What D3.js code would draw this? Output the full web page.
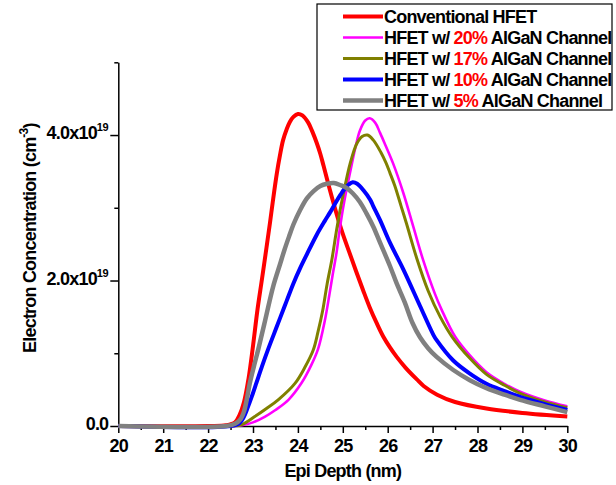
<!DOCTYPE html>
<html>
<head>
<meta charset="utf-8">
<script src="https://cdn.jsdelivr.net/npm/d3@7"></script>
<style>
  body { margin: 0; background: #fff; }
  svg text { font-family: "Liberation Sans", Arial, sans-serif; font-weight: bold; fill: #000; }
</style>
</head>
<body>
<svg id="chart" width="616" height="485"></svg>
<script>
// Electron concentration profiles, [epi depth (nm), concentration (1e19 cm^-3)]
const conventional = [[20,0],[22,0],[22.4,0.01],[22.6,0.05],[22.7,0.15],[22.8,0.33],[22.9,0.65],[23.0,1.1],[23.1,1.6],[23.2,2.02],[23.3,2.45],[23.38,2.8],[23.44,3.08],[23.53,3.47],[23.6,3.72],[23.67,3.93],[23.75,4.08],[23.82,4.18],[23.9,4.25],[24.0,4.29],[24.1,4.27],[24.23,4.17],[24.32,4.05],[24.42,3.89],[24.5,3.74],[24.57,3.58],[24.71,3.25],[24.86,2.92],[25.0,2.64],[25.15,2.38],[25.3,2.12],[25.45,1.87],[25.6,1.63],[25.75,1.42],[25.9,1.23],[26.05,1.08],[26.2,0.95],[26.4,0.8],[26.65,0.64],[26.8,0.55],[27.1,0.43],[27.5,0.33],[28.2,0.24],[29.0,0.18],[30,0.13]];

const channel20 = [[20,0],[22.5,0],[22.75,0.01],[23.0,0.05],[23.27,0.13],[23.5,0.22],[23.79,0.36],[24.08,0.59],[24.3,0.84],[24.45,1.06],[24.6,1.45],[24.7,1.8],[24.78,2.1],[24.86,2.38],[24.93,2.7],[25.03,3.08],[25.2,3.6],[25.3,3.88],[25.38,4.06],[25.5,4.2],[25.6,4.23],[25.72,4.17],[25.83,4.03],[25.95,3.86],[26.12,3.61],[26.35,3.2],[26.57,2.74],[26.79,2.28],[27.05,1.82],[27.2,1.6],[27.5,1.23],[27.83,0.97],[28.2,0.74],[28.6,0.58],[28.95,0.47],[29.5,0.35],[30,0.27]];

const channel17 = [[20,0],[22.5,0],[22.75,0.02],[23.04,0.13],[23.3,0.24],[23.56,0.36],[23.94,0.59],[24.15,0.8],[24.34,1.04],[24.45,1.3],[24.55,1.58],[24.65,1.95],[24.76,2.3],[24.85,2.65],[24.94,2.97],[25.05,3.3],[25.16,3.6],[25.31,3.88],[25.43,3.98],[25.55,4.0],[25.68,3.93],[25.85,3.76],[25.96,3.62],[26.05,3.48],[26.16,3.3],[26.3,3.02],[26.42,2.78],[26.65,2.3],[26.9,1.86],[27.17,1.5],[27.43,1.23],[27.83,0.93],[28.2,0.71],[28.6,0.56],[28.95,0.45],[29.5,0.33],[30,0.25]];

const channel10 = [[20,0],[22.5,0],[22.7,0.04],[22.8,0.13],[22.88,0.25],[22.97,0.4],[23.08,0.6],[23.2,0.82],[23.34,1.06],[23.47,1.27],[23.6,1.48],[23.75,1.72],[23.9,1.96],[24.05,2.17],[24.2,2.36],[24.42,2.63],[24.6,2.82],[24.72,2.94],[24.85,3.08],[24.95,3.18],[25.05,3.27],[25.13,3.32],[25.22,3.35],[25.32,3.33],[25.46,3.24],[25.61,3.11],[25.68,3.02],[25.83,2.83],[26.05,2.52],[26.35,2.15],[26.72,1.65],[27.02,1.25],[27.09,1.18],[27.46,0.9],[27.83,0.72],[28.2,0.58],[28.6,0.48],[28.95,0.4],[29.5,0.3],[30,0.22]];

const channel5 = [[20,0],[22.4,0],[22.6,0.03],[22.72,0.09],[22.8,0.2],[22.86,0.36],[22.93,0.59],[23.02,0.82],[23.12,1.06],[23.27,1.45],[23.45,1.92],[23.6,2.22],[23.7,2.42],[23.8,2.6],[23.9,2.77],[24.05,2.97],[24.2,3.13],[24.35,3.23],[24.5,3.3],[24.65,3.33],[24.8,3.34],[24.95,3.31],[25.09,3.27],[25.22,3.2],[25.38,3.08],[25.53,2.92],[25.68,2.74],[25.83,2.52],[26.05,2.2],[26.2,1.96],[26.38,1.7],[26.55,1.42],[26.72,1.22],[26.9,1.07],[27.09,0.95],[27.46,0.77],[27.83,0.63],[28.2,0.52],[28.6,0.43],[28.95,0.36],[29.5,0.27],[30,0.19]];

const seriesLabels = ["Conventional HFET", "HFET w/ 20% AlGaN Channel", "HFET w/ 17% AlGaN Channel", "HFET w/ 10% AlGaN Channel", "HFET w/ 5% AlGaN Channel"];
const seriesColors = ["#ff0000", "#ff00ff", "#808000", "#0000ff", "#808080"];
const seriesWidths = [4, 2.6, 3, 4, 4.5];

const xMajorTicks = [20, 21, 22, 23, 24, 25, 26, 27, 28, 29, 30];
const xMinorTicks = [20.5, 21.5, 22.5, 23.5, 24.5, 25.5, 26.5, 27.5, 28.5, 29.5];
const yMajorTicks = [0, 2, 4];
const yMinorTicks = [1, 3, 5];
const yTickLabels = ["0.0", "2.0x10", "4.0x10"];

const xTitle = "Epi Depth (nm)";
const yTitle = "Electron Concentration (cm";

const allSeries = [conventional, channel20, channel17, channel10, channel5];

const svg = d3.select("#chart");
const x = d3.scaleLinear().domain([20, 30]).range([118.3, 567.3]);
const y = d3.scaleLinear().domain([0, 5]).range([426, 62.3]);

const LS = "-0.8px";

// x axis: labelled integer ticks plus unlabelled half-nm ticks
const xAxisG = svg.append("g").attr("transform", `translate(0,${y(0)})`);
xAxisG.call(d3.axisBottom(x).tickValues(xMajorTicks).tickSize(7).tickSizeOuter(0).tickPadding(6).tickFormat(d3.format("d")));
xAxisG.append("g").call(d3.axisBottom(x).tickValues(xMinorTicks).tickSize(4).tickSizeOuter(0).tickFormat(""))
  .select(".domain").remove();
xAxisG.selectAll("path,line").attr("stroke", "#000").attr("stroke-width", 1.5);
xAxisG.selectAll("text").attr("font-size", 18).attr("letter-spacing", LS).attr("fill", "#000");

// y axis
const yAxisG = svg.append("g").attr("transform", `translate(${x(20)},0)`);
yAxisG.call(d3.axisLeft(y).tickValues(yMajorTicks).tickSize(8).tickSizeOuter(0).tickPadding(2).tickFormat(""));
yAxisG.append("g").call(d3.axisLeft(y).tickValues(yMinorTicks).tickSize(4).tickSizeOuter(0).tickFormat(""))
  .select(".domain").remove();
yAxisG.selectAll("path,line").attr("stroke", "#000").attr("stroke-width", 1.5);

// y tick labels in scientific notation with superscript exponent
yMajorTicks.forEach((v, i) => {
  const t = svg.append("text")
    .attr("x", x(20) - 10)
    .attr("y", y(v) + 4)
    .attr("text-anchor", "end")
    .attr("font-size", 18)
    .attr("letter-spacing", LS);
  if (v === 0) {
    t.text(yTickLabels[i]);
  } else {
    t.append("tspan").text(yTickLabels[i]);
    t.append("tspan").attr("font-size", 11).attr("dy", -8).attr("letter-spacing", "-0.4px").text("19");
  }
});

// axis titles
svg.append("text")
  .attr("x", (x(20) + x(30)) / 2)
  .attr("y", 477)
  .attr("text-anchor", "middle")
  .attr("font-size", 18)
  .attr("letter-spacing", LS)
  .text(xTitle);

const yt = svg.append("text")
  .attr("transform", `translate(36,${(y(0) + y(5)) / 2 - 6}) rotate(-90)`)
  .attr("text-anchor", "middle")
  .attr("font-size", 18)
  .attr("letter-spacing", LS);
yt.append("tspan").text(yTitle);
yt.append("tspan").attr("font-size", 12).attr("dy", -8).text("-3");
yt.append("tspan").attr("dy", 8).text(")");

// curves (centripetal Catmull-Rom through the sampled points)
const line = d3.line()
  .x(d => x(d[0]))
  .y(d => Math.min(y(d[1]), y(0)))
  .curve(d3.curveCatmullRom.alpha(0.5));

allSeries.forEach((data, i) => {
  svg.append("path")
    .datum(data)
    .attr("fill", "none")
    .attr("stroke", seriesColors[i])
    .attr("stroke-width", seriesWidths[i])
    .attr("stroke-linejoin", "round")
    .attr("d", line);
});

// legend
const legend = svg.append("g");
legend.append("rect")
  .attr("x", 317).attr("y", 4)
  .attr("width", 295).attr("height", 106)
  .attr("fill", "#fff")
  .attr("stroke", "#000")
  .attr("stroke-width", 1.2);

seriesLabels.forEach((label, i) => {
  const base = 23 + i * 21;
  legend.append("line")
    .attr("x1", 343).attr("x2", 383)
    .attr("y1", base - 6.5).attr("y2", base - 6.5)
    .attr("stroke", seriesColors[i])
    .attr("stroke-width", seriesWidths[i]);
  const t = legend.append("text")
    .attr("x", 384).attr("y", base)
    .attr("font-size", 18)
    .attr("letter-spacing", LS);
  label.split(/(\d+%)/).filter(s => s.length).forEach(part => {
    t.append("tspan")
      .attr("fill", /\d+%/.test(part) ? "#ff0000" : "#000")
      .text(part);
  });
});
</script>
</body>
</html>
